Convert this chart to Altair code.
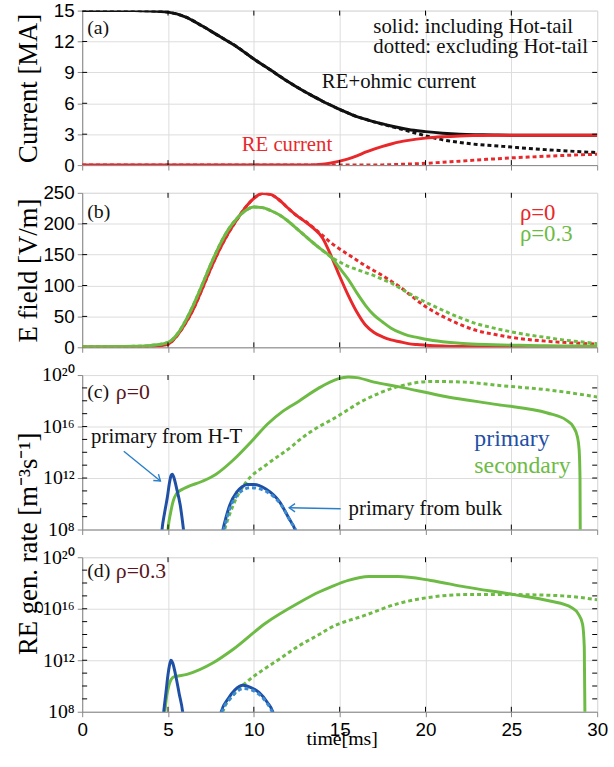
import altair as alt
import pandas as pd

# ---------------- data ----------------
# (a) plasma current [MA]
t_a = [0, 2, 3, 4, 5, 6, 7, 8, 9, 10, 11, 12, 13, 13.5, 14, 14.5, 15, 15.5, 16, 16.5,
       17, 17.5, 18, 18.5, 19, 20, 21, 22, 23, 24, 25, 26, 27, 28, 29, 30]
total_ht = [15.0, 15.0, 15.0, 14.97, 14.85, 14.4, 13.5, 12.5, 11.5, 10.3, 9.2, 8.1, 7.1, 6.65, 6.2, 5.8,
            5.4, 5.05, 4.7, 4.45, 4.2, 4.0, 3.8, 3.62, 3.45, 3.25, 3.1, 3.0, 2.95, 2.92, 2.9, 2.9,
            2.9, 2.9, 2.9, 2.9]
total_noht = [15.0, 15.0, 15.0, 14.97, 14.85, 14.4, 13.5, 12.5, 11.5, 10.3, 9.2, 8.1, 7.1, 6.65, 6.2, 5.8,
              5.4, 5.05, 4.7, 4.45, 4.2, 3.97, 3.75, 3.52, 3.3, 2.85, 2.45, 2.2, 2.0, 1.88, 1.75, 1.62,
              1.5, 1.4, 1.3, 1.22]
re_ht = [0, 0, 0, 0, 0, 0, 0, 0, 0, 0, 0, 0, 0, 0.02, 0.08, 0.2, 0.38, 0.6, 0.9, 1.25,
         1.55, 1.82, 2.05, 2.25, 2.4, 2.62, 2.75, 2.83, 2.87, 2.9, 2.9, 2.9, 2.9, 2.9, 2.9, 2.9]
re_noht = [0, 0, 0, 0, 0, 0, 0, 0, 0, 0, 0, 0, 0, 0, 0, 0, 0, 0, 0, 0,
           0, 0.02, 0.04, 0.07, 0.1, 0.17, 0.28, 0.38, 0.5, 0.6, 0.7, 0.78, 0.86, 0.93, 1.0, 1.05]

# (b) electric field [V/m]
t_b = [0, 1, 2, 3, 4, 5, 5.5, 6, 6.5, 7, 7.5, 8, 8.5, 9, 9.5, 10, 10.5, 11, 11.5, 12, 12.5,
       13, 13.5, 14, 14.5, 15, 15.5, 16, 16.5, 17, 17.5, 18, 18.5, 19, 19.5, 20, 21, 22, 23,
       24, 25, 26, 27, 28, 29, 30]
e0_ht = [0.5, 0.5, 0.6, 0.8, 1.5, 5, 18, 38, 63, 95, 128, 158, 184, 206, 226, 241, 249, 247, 238, 225, 213,
         203, 192, 177, 148, 115, 84, 57, 36, 24, 17, 12, 9, 6, 4.5, 3.5, 2, 1.2, 0.8,
         0.6, 0.5, 0.5, 0.5, 0.5, 0.5, 0.5]
e0_noht = [0.5, 0.5, 0.6, 0.8, 1.5, 5, 18, 38, 63, 95, 128, 158, 184, 206, 226, 241, 249, 247, 238, 225, 213,
           204, 193, 181, 169, 159, 150, 141, 132, 124, 116, 107, 98, 87, 76, 66, 50, 37, 27,
           21, 16, 12.5, 10, 8, 6.5, 5]
e3_ht = [1, 1, 1.2, 1.6, 3, 8, 20, 42, 70, 102, 135, 165, 190, 208, 221, 227, 226, 221, 214, 204, 192,
         180, 168, 157, 146, 128, 110, 88, 68, 52, 41, 31, 24, 19, 16, 13, 9, 6.5, 5,
         4, 3.5, 3, 2.5, 2.2, 2, 2]
e3_noht = [1, 1, 1.2, 1.6, 3, 8, 20, 42, 70, 102, 135, 165, 190, 208, 221, 227, 226, 221, 214, 204, 192,
           180, 168, 157, 146, 138, 131, 126, 121, 116, 110, 104, 96, 88, 80, 73, 60, 48, 38,
           31, 25, 20, 16, 12, 9, 6]

# (c) generation rates at rho=0, given as log10 of the rate [m^-3 s^-1]
c_ht_t = [4.6, 4.65, 4.8, 4.96, 5.08, 5.18, 5.25, 5.35, 5.5, 5.71, 5.9, 5.96]
c_ht_e = [7.3, 8.0, 9.3, 10.5, 11.6, 12.2, 12.3, 12.0, 11.2, 9.9, 8.0, 7.3]
c_bulk_t = [8.1, 8.2, 8.6, 9.0, 9.3, 9.6, 10.0, 10.7, 11.5, 12.05, 12.4, 12.5]
c_bulk_e = [7.4, 8.0, 9.9, 10.9, 11.3, 11.5, 11.5, 11.15, 10.15, 8.85, 8.0, 7.6]
c_bulk0_t = [8.15, 8.25, 8.65, 9.05, 9.4, 9.8, 10.2, 10.8, 11.6, 12.15, 12.45, 12.55]
c_bulk0_e = [7.4, 8.0, 9.8, 10.7, 11.1, 11.25, 11.2, 10.9, 9.9, 8.6, 7.9, 7.5]
c_sec_t = [4.95, 5.0, 5.15, 5.3, 5.5, 5.8, 6.1, 7.0, 7.8, 8.8, 9.9, 10.8, 11.7, 12.6, 13.8,
           14.9, 15.5, 16.0, 17.0, 18.4, 21.3, 24.2, 27.1, 28.2, 28.6, 28.85, 28.95, 29.0, 29.02]
c_sec_e = [7.0, 8.0, 9.3, 10.2, 10.8, 11.1, 11.3, 11.75, 12.3, 13.4, 14.9, 16.2, 17.2, 17.95, 19.0,
           19.7, 19.85, 19.8, 19.45, 19.1, 18.3, 17.7, 17.05, 16.5, 16.0, 15.2, 14.2, 12.0, 6.0]
c_sec0_t = [8.2, 8.3, 8.8, 9.56, 10.7, 12.25, 12.6, 13.8, 14.5, 16.5, 18.4, 20.3, 22.3, 24.2, 27.1, 30]
c_sec0_e = [7.5, 8.0, 9.9, 11.7, 13.0, 14.5, 14.9, 16.0, 16.5, 18.1, 19.1, 19.5, 19.45, 19.2, 18.85, 18.3]

# (d) generation rates at rho=0.3, log10 of the rate
d_ht_t = [4.7, 4.75, 4.88, 5.0, 5.1, 5.17, 5.27, 5.45, 5.65, 5.85, 5.9]
d_ht_e = [7.3, 8.0, 9.5, 10.9, 11.7, 12.0, 11.8, 10.8, 9.4, 8.0, 7.4]
d_bulk_t = [8.0, 8.1, 8.5, 8.9, 9.37, 9.8, 10.3, 10.8, 11.1, 11.2]
d_bulk_e = [7.4, 8.0, 9.0, 9.7, 10.05, 9.9, 9.5, 8.7, 8.0, 7.5]
d_bulk0_t = [8.05, 8.15, 8.55, 8.95, 9.4, 9.85, 10.35, 10.8, 11.05, 11.15]
d_bulk0_e = [7.4, 8.0, 8.9, 9.5, 9.8, 9.7, 9.3, 8.6, 8.0, 7.5]
d_sec_t = [4.78, 4.82, 4.92, 5.04, 5.33, 6.1, 7.63, 8.8, 10.7, 12.6, 13.8, 14.5, 15.5, 16.7, 18.4,
           20.3, 22.3, 25.15, 27.25, 28.5, 28.9, 29.15, 29.25, 29.3]
d_sec_e = [7.3, 8.0, 9.2, 10.0, 10.7, 10.9, 11.8, 12.85, 14.9, 16.45, 17.3, 17.7, 18.2, 18.5, 18.5,
           18.2, 17.7, 17.1, 16.6, 16.1, 15.6, 14.8, 13.0, 6.0]
d_sec0_t = [8.1, 8.2, 8.8, 9.75, 10.7, 11.5, 12.6, 13.8, 14.5, 16.5, 18.4, 20.3, 22.3, 25.15, 28, 30]
d_sec0_e = [7.4, 8.0, 9.3, 10.5, 11.4, 12.1, 13.1, 14.0, 14.55, 15.5, 16.4, 16.9, 17.1, 17.1, 17.0, 16.7]

x_ticks = [0, 5, 10, 15, 20, 25, 30]
cur_ticks = [0, 3, 6, 9, 12, 15]
ef_ticks = [0, 50, 100, 150, 200, 250]
log_labels = [1e8, 1e12, 1e16, 1e20]
log_minor = [10.0 ** k for k in range(9, 20)]

# ---------------- style ----------------
W, H = 520, 156
SERIF = "Liberation Serif"
SANS = "Liberation Sans"
RED = "#e8282a"
GREEN = "#6dbb45"
BLUE = "#1f50a5"
LBLUE = "#3b8bd2"
ARROW = "#2a7fc8"
MAROON = "#5a1520"
BLACK = "#111111"

x_scale = alt.Scale(domain=[0, 30], nice=False, zero=False)


def x_axis(bottom):
    if bottom:
        return alt.Axis(values=x_ticks, labelFont=SANS, labelFontSize=19, labelColor="black",
                        labelPadding=4, labelFlush=False, labelOverlap=False,
                        title="time[ms]", titleFont=SERIF, titleFontSize=20,
                        titleFontWeight="normal", titleColor="black",
                        titleX=262, titleY=27, titleBaseline="middle")
    return alt.Axis(values=x_ticks, labels=False, title=None)


def y_axis(title, values, log=False, title_y=H / 2):
    kw = dict(values=values, labelFontSize=19, labelColor="black", labelPadding=3,
              labelFlush=False, labelOverlap=False, titleFont=SERIF, titleFontSize=27,
              titleFontWeight="normal", titleColor="black", titleX=-54, titleY=title_y,
              titleBaseline="middle", titleAngle=-90)
    if log:
        kw["labelFont"] = SERIF
        kw["labelFontSize"] = 20
        kw["labelExpr"] = ("datum.value == 1e8 ? '10\u2078' : datum.value == 1e12 ? '10\u00b9\u00b2' : "
                           "datum.value == 1e16 ? '10\u00b9\u2076' : '10\u00b2\u2070'")
    else:
        kw["labelFont"] = SANS
    if title is None:
        return alt.Axis(title=None, **kw)
    return alt.Axis(title=title, **kw)


def curve(t, v, color, yscale, xa, ya, dashed=False, width=3):
    df = pd.DataFrame({"t": t, "v": v})
    opts = dict(color=color, strokeWidth=width, clip=True, interpolate="monotone")
    if dashed:
        opts["strokeDash"] = [4, 3]
    return alt.Chart(df).mark_line(**opts).encode(
        x=alt.X("t:Q", scale=x_scale, axis=xa),
        y=alt.Y("v:Q", scale=yscale, axis=ya),
    )


def log_curve(t, e, color, yscale, xa, ya, dashed=False):
    return curve(t, [10.0 ** k for k in e], color, yscale, xa, ya, dashed)


def frame_ticks(yvals, yscale, xa, ya):
    """Short inward ticks on all four sides of a panel."""
    xt = pd.DataFrame({"t": x_ticks[1:-1]})
    yt = pd.DataFrame({"v": yvals})
    layers = []
    for y0, y1 in [(0, 5), (H - 5, H)]:
        layers.append(alt.Chart(xt).mark_rule(color="black", strokeWidth=1).encode(
            x=alt.X("t:Q", scale=x_scale, axis=xa), y=alt.value(y0), y2=alt.value(y1)))
    for x0, x1 in [(0, 5), (W - 5, W)]:
        layers.append(alt.Chart(yt).mark_rule(color="black", strokeWidth=1).encode(
            y=alt.Y("v:Q", scale=yscale, axis=ya), x=alt.value(x0), x2=alt.value(x1)))
    return layers


def note(text, x, y, size=21, color=BLACK, font=SERIF, align="left"):
    return alt.Chart(pd.DataFrame({"s": [text]})).mark_text(
        align=align, baseline="middle", font=font, fontSize=size, color=color
    ).encode(x=alt.value(x), y=alt.value(y), text="s:N")


def arrow(x0, y0, x1, y1, angle):
    one = pd.DataFrame({"k": [0]})
    shaft = alt.Chart(one).mark_rule(color=ARROW, strokeWidth=1.4).encode(
        x=alt.value(x0), y=alt.value(y0), x2=alt.value(x1), y2=alt.value(y1))
    head = alt.Chart(one).mark_point(
        shape="M -0.7 1 L 0 0 L 0.7 1", filled=False, color=ARROW, strokeWidth=1.4,
        size=140, angle=angle, opacity=1
    ).encode(x=alt.value(x1), y=alt.value(y1))
    return [shaft, head]


# ---------------- (a) current ----------------
ys_a = alt.Scale(domain=[0, 15], nice=False, zero=False)
xa_a, ya_a = x_axis(False), y_axis("Current [MA]", cur_ticks)
panel_a = alt.layer(
    curve(t_a, total_ht, BLACK, ys_a, xa_a, ya_a),
    curve(t_a, total_noht, BLACK, ys_a, xa_a, ya_a, dashed=True),
    curve(t_a, re_ht, RED, ys_a, xa_a, ya_a),
    curve(t_a, re_noht, RED, ys_a, xa_a, ya_a, dashed=True),
    *frame_ticks(cur_ticks[1:-1], ys_a, xa_a, ya_a),
    note("(a)", 5, 18, size=20),
    note("solid: including Hot-tail", 294, 17),
    note("dotted: excluding Hot-tail", 294, 37),
    note("RE+ohmic current", 242, 72),
    note("RE current", 161, 136, color=RED),
).properties(width=W, height=H)

# ---------------- (b) electric field ----------------
ys_b = alt.Scale(domain=[0, 250], nice=False, zero=False)
xa_b, ya_b = x_axis(False), y_axis("E field [V/m]", ef_ticks)
panel_b = alt.layer(
    curve(t_b, e0_noht, RED, ys_b, xa_b, ya_b, dashed=True),
    curve(t_b, e0_ht, RED, ys_b, xa_b, ya_b),
    curve(t_b, e3_noht, GREEN, ys_b, xa_b, ya_b, dashed=True),
    curve(t_b, e3_ht, GREEN, ys_b, xa_b, ya_b),
    *frame_ticks(ef_ticks[1:-1], ys_b, xa_b, ya_b),
    note("(b)", 5, 19, size=20),
    note("\u03c1=0", 442, 20, size=23, color=RED),
    note("\u03c1=0.3", 442, 42, size=23, color=GREEN),
).properties(width=W, height=H)

# ---------------- (c) generation rate, rho=0 ----------------
ys_log = alt.Scale(type="log", domain=[1e8, 1e20], nice=False)
xa_c = x_axis(False)
ya_c = y_axis("RE gen. rate [m\u207b\u00b3s\u207b\u00b9]", log_labels, log=True, title_y=170)
panel_c = alt.layer(
    log_curve(c_sec0_t, c_sec0_e, GREEN, ys_log, xa_c, ya_c, dashed=True),
    log_curve(c_sec_t, c_sec_e, GREEN, ys_log, xa_c, ya_c),
    log_curve(c_ht_t, c_ht_e, BLUE, ys_log, xa_c, ya_c),
    log_curve(c_bulk_t, c_bulk_e, BLUE, ys_log, xa_c, ya_c),
    log_curve(c_bulk0_t, c_bulk0_e, LBLUE, ys_log, xa_c, ya_c, dashed=True),
    *frame_ticks(log_minor, ys_log, xa_c, ya_c),
    note("(c)", 5, 17, size=20),
    note("\u03c1=0", 34, 17, size=22, color=MAROON),
    note("primary from H-T", 9, 63),
    note("primary from bulk", 269, 135),
    note("primary", 396, 65, size=24, color=BLUE),
    note("secondary", 396, 92, size=24, color=GREEN),
    *arrow(42, 77, 79, 107, 129),
    *arrow(261, 135, 209, 134, 270),
).properties(width=W, height=H)

# ---------------- (d) generation rate, rho=0.3 ----------------
xa_d = x_axis(True)
ya_d = y_axis(None, log_labels, log=True)
panel_d = alt.layer(
    log_curve(d_sec0_t, d_sec0_e, GREEN, ys_log, xa_d, ya_d, dashed=True),
    log_curve(d_sec_t, d_sec_e, GREEN, ys_log, xa_d, ya_d),
    log_curve(d_ht_t, d_ht_e, BLUE, ys_log, xa_d, ya_d),
    log_curve(d_bulk_t, d_bulk_e, BLUE, ys_log, xa_d, ya_d),
    log_curve(d_bulk0_t, d_bulk0_e, LBLUE, ys_log, xa_d, ya_d, dashed=True),
    *frame_ticks(log_minor, ys_log, xa_d, ya_d),
    note("(d)", 5, 14, size=20),
    note("\u03c1=0.3", 34, 14, size=22, color=MAROON),
).properties(width=W, height=H)

chart = alt.vconcat(panel_a, panel_b, panel_c, panel_d, spacing=28, bounds="flush").properties(
    padding={"left": 14, "top": -3, "right": 5, "bottom": 5}
).configure_view(
    stroke="black", strokeWidth=1.3
).configure_axis(
    grid=False, domain=False, ticks=False
).configure(background="white")

chart.save("out.html", embed_options={"renderer": "svg", "actions": False})
